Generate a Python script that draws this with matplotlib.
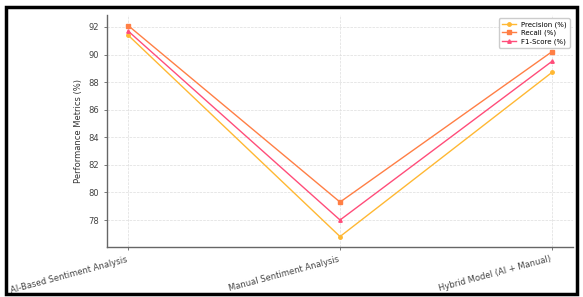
import matplotlib.pyplot as plt
from matplotlib.patches import Rectangle

methods = ['AI-Based Sentiment Analysis', 'Manual Sentiment Analysis', 'Hybrid Model (AI + Manual)']
precision = [91.4, 76.8, 88.7]
recall = [92.1, 79.3, 90.2]
f1_score = [91.7, 78.0, 89.5]

fig = plt.figure(figsize=(5.83, 2.97), dpi=100)
ax = fig.add_axes([0.1835, 0.168, 0.7995, 0.7815])

ax.plot(methods, precision, marker='o', ms=2.5, lw=1, color='#FFB833', label='Precision (%)')
ax.plot(methods, recall, marker='s', ms=2.5, lw=1, color='#FF7F45', label='Recall (%)')
ax.plot(methods, f1_score, marker='^', ms=2.5, lw=1, color='#FF4D7A', label='F1-Score (%)')

ax.set_ylabel('Performance Metrics (%)', fontsize=6, color='#333333')
ax.set_yticks([78, 80, 82, 84, 86, 88, 90, 92])
ax.tick_params(axis='both', labelsize=6, colors='#444444', length=2, width=0.5)
plt.setp(ax.get_xticklabels(), rotation=15, ha='right')
ax.grid(True, color='#dddddd', lw=0.5, linestyle='--')
for s in ['top', 'right']:
    ax.spines[s].set_visible(False)
for s in ['left', 'bottom']:
    ax.spines[s].set_color('#666666')
    ax.spines[s].set_linewidth(1)

ax.legend(loc='upper right', fontsize=5, handlelength=2, labelspacing=0.3,
          borderpad=0.4, framealpha=1, edgecolor='#cccccc')

fig.patches.append(Rectangle((0.011, 0.01), 0.978, 0.968, transform=fig.transFigure,
                             fill=False, edgecolor='black', lw=2.5))

fig.savefig('out.png', dpi=100)
